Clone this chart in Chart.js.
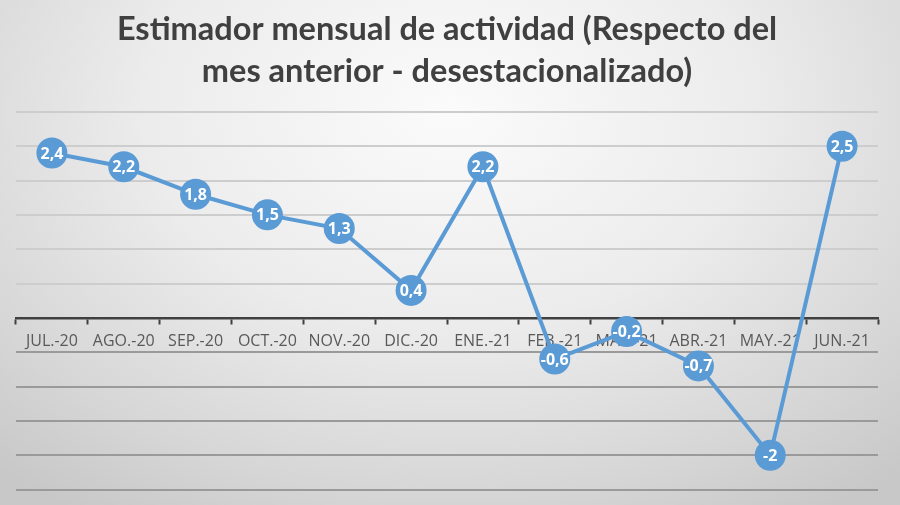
<!DOCTYPE html>
<html>
<head>
<meta charset="utf-8">
<script src="https://cdn.jsdelivr.net/npm/chart.js@4.4.0/dist/chart.umd.min.js"></script>
<style>
  html, body { margin: 0; padding: 0; }
  body {
    width: 900px; height: 505px; overflow: hidden;
    background: radial-gradient(ellipse 75% 95% at 50% 22%, #fbfbfb 0%, #ececec 45%, #d6d6d6 80%, #c8c8c8 100%);
  }
  #wrap { position: relative; width: 900px; height: 505px; }
</style>
</head>
<body>
<div id="wrap"><canvas id="mycanvas"></canvas></div>
<script>
var titleLines = ['Estimador mensual de actividad (Respecto del', 'mes anterior - desestacionalizado)'];
var months = ['JUL.-20', 'AGO.-20', 'SEP.-20', 'OCT.-20', 'NOV.-20', 'DIC.-20',
              'ENE.-21', 'FEB.-21', 'MAR.-21', 'ABR.-21', 'MAY.-21', 'JUN.-21'];
var actividad = [2.4, 2.2, 1.8, 1.5, 1.3, 0.4, 2.2, -0.6, -0.2, -0.7, -2, 2.5];

// value labels inside the circles, with comma decimals
var pointLabels = {
  id: 'pointLabels',
  afterDatasetsDraw: function(chart) {
    var ctx = chart.ctx;
    var meta = chart.getDatasetMeta(0);
    ctx.save();
    ctx.fillStyle = '#ffffff';
    ctx.font = 'bold 16px "Open Sans", sans-serif';
    ctx.textAlign = 'center';
    ctx.textBaseline = 'middle';
    meta.data.forEach(function(pt, i) {
      var txt = String(actividad[i]).replace('.', ',');
      ctx.fillText(txt, pt.x, pt.y + 1);
    });
    ctx.restore();
  }
};

var ctx = document.getElementById('mycanvas');
var lineChart = new Chart(ctx, {
  type: 'line',
  data: {
    labels: months,
    datasets: [{
      label: 'Actividad',
      data: actividad,
      borderColor: '#5b9bd5',
      backgroundColor: '#5b9bd5',
      borderWidth: 4,
      pointRadius: 15.5,
      pointBorderWidth: 0,
      pointBackgroundColor: '#5b9bd5',
      tension: 0
    }]
  },
  options: {
    responsive: true,
    maintainAspectRatio: false,
    animation: false,
    layout: { padding: { left: 16, right: 22, bottom: 11, top: 0 } },
    plugins: {
      legend: { display: false },
      tooltip: { enabled: false },
      title: {
        display: true,
        text: titleLines,
        color: '#404040',
        font: { family: 'Lato, sans-serif', size: 32.5, weight: 'bold', lineHeight: 1.29 },
        padding: { top: 9, bottom: 19 }
      }
    },
    scales: {
      x: {
        position: { y: 0 },
        offset: true,
        grid: {
          display: true,
          drawOnChartArea: false,
          drawTicks: true,
          tickLength: 5,
          tickWidth: 2,
          tickColor: '#404040',
          offset: true
        },
        border: { display: true, color: '#404040', width: 2.5 },
        ticks: {
          color: '#595959',
          font: { family: '"Open Sans", sans-serif', size: 16 },
          padding: 9,
          maxRotation: 0,
          autoSkip: false
        }
      },
      y: {
        min: -2.5,
        max: 3,
        ticks: { display: false, stepSize: 0.5 },
        border: { display: false },
        grid: {
          drawTicks: false,
          lineWidth: 2,
          color: function(c) {
            var v = c.tick ? c.tick.value : 0;
            return v > 0 ? '#cdcdcd' : '#9a9a9a';
          }
        }
      }
    }
  },
  plugins: [pointLabels]
});
</script>
</body>
</html>
